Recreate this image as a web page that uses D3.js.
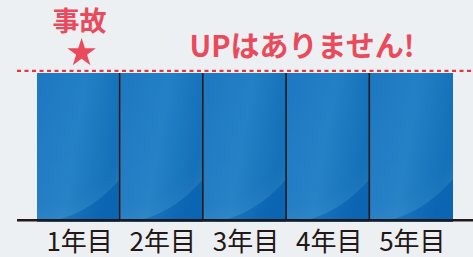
<!DOCTYPE html>
<html>
<head>
<meta charset="utf-8">
<script src="https://cdn.jsdelivr.net/npm/d3@7"></script>
<style>
  html, body { margin: 0; padding: 0; background: #ecf0f3; }
  svg { display: block; font-family: "Noto Sans CJK JP", "Noto Sans", sans-serif; }
</style>
</head>
<body>
<div id="chart"></div>
<script>
const years = ['1年目', '2年目', '3年目', '4年目', '5年目'];
const premiums = [100, 100, 100, 100, 100];
const limitLevel = 101.4;
const accidentYear = '1年目';
const accidentLabel = '事故';
const noteText = 'UPはありません!';

const width = 473;
const height = 257;

const svg = d3.select('#chart')
    .append('svg')
    .attr('width', width)
    .attr('height', height);

const x = d3.scaleBand()
    .domain(years)
    .range([37, 453])
    .padding(0);

const y = d3.scaleLinear()
    .domain([0, 100])
    .range([220, 73]);

const defs = svg.append('defs');
const grad = defs.append('linearGradient')
    .attr('id', 'barFill')
    .attr('x1', 0).attr('y1', 0)
    .attr('x2', 1).attr('y2', 0.3);
grad.append('stop').attr('offset', '0%').attr('stop-color', '#1a75c1');
grad.append('stop').attr('offset', '55%').attr('stop-color', '#1e7dc4');
grad.append('stop').attr('offset', '100%').attr('stop-color', '#0b6bb6');

// big faint circle whose edge sweeps across the bottom of every bar
const arc = defs.append('radialGradient')
    .attr('id', 'barArc')
    .attr('cx', 0).attr('cy', -0.86)
    .attr('r', 1.95);
arc.append('stop').attr('offset', '0%').attr('stop-color', '#fff').attr('stop-opacity', 0);
arc.append('stop').attr('offset', '90%').attr('stop-color', '#fff').attr('stop-opacity', 0.04);
arc.append('stop').attr('offset', '95%').attr('stop-color', '#fff').attr('stop-opacity', 0.07);
arc.append('stop').attr('offset', '95.6%').attr('stop-color', '#0a56a8').attr('stop-opacity', 0.22);
arc.append('stop').attr('offset', '100%').attr('stop-color', '#0a56a8').attr('stop-opacity', 0.3);

// bars
const bars = svg.selectAll('g.bar')
    .data(years.map((d, i) => ({ year: d, value: premiums[i] })))
    .enter()
    .append('g')
    .attr('class', 'bar');

bars.append('rect')
    .attr('x', d => x(d.year))
    .attr('y', d => y(d.value))
    .attr('width', x.bandwidth())
    .attr('height', d => y(0) - y(d.value) + 2)
    .attr('fill', 'url(#barFill)');

bars.append('rect')
    .attr('x', d => x(d.year))
    .attr('y', d => y(d.value))
    .attr('width', x.bandwidth())
    .attr('height', d => y(0) - y(d.value) + 2)
    .attr('fill', 'url(#barArc)');

// dividers between bars
svg.selectAll('line.divider')
    .data(years.slice(1))
    .enter()
    .append('line')
    .attr('class', 'divider')
    .attr('x1', d => x(d) - 0.5)
    .attr('x2', d => x(d) - 0.5)
    .attr('y1', y(100))
    .attr('y2', y(0))
    .attr('stroke', '#231815')
    .attr('stroke-width', 1.6);

// baseline
svg.append('line')
    .attr('x1', 17)
    .attr('x2', width)
    .attr('y1', y(0) + 0.3)
    .attr('y2', y(0) + 0.3)
    .attr('stroke', '#231815')
    .attr('stroke-width', 2.4);

// dashed limit line
svg.append('line')
    .attr('x1', 17)
    .attr('x2', width)
    .attr('y1', y(limitLevel))
    .attr('y2', y(limitLevel))
    .attr('stroke', '#e83341')
    .attr('stroke-width', 2.2)
    .attr('stroke-dasharray', '4 3.5');

// year labels
svg.selectAll('text.year')
    .data(years)
    .enter()
    .append('text')
    .attr('class', 'year')
    .attr('x', d => x(d) + x.bandwidth() / 2 + 1)
    .attr('y', 251)
    .attr('text-anchor', 'middle')
    .attr('font-size', '26px')
    .attr('fill', '#231815')
    .text(d => d);

// accident marker
const ax = x(accidentYear) + x.bandwidth() / 2 + 3;
svg.append('text')
    .attr('x', ax - 2)
    .attr('y', 31)
    .attr('text-anchor', 'middle')
    .attr('font-size', '27px')
    .attr('font-weight', 'bold')
    .attr('fill', '#ea4a5b')
    .text(accidentLabel);

svg.append('path')
    .attr('d', d3.symbol(d3.symbolStar, 253)())
    .attr('transform', `translate(${ax},53)`)
    .attr('fill', '#ea4a5b');

svg.append('text')
    .attr('x', 302)
    .attr('y', 57)
    .attr('text-anchor', 'middle')
    .attr('font-size', '29px')
    .attr('font-weight', 'bold')
    .attr('fill', '#ea4a5b')
    .text(noteText);
</script>
</body>
</html>
